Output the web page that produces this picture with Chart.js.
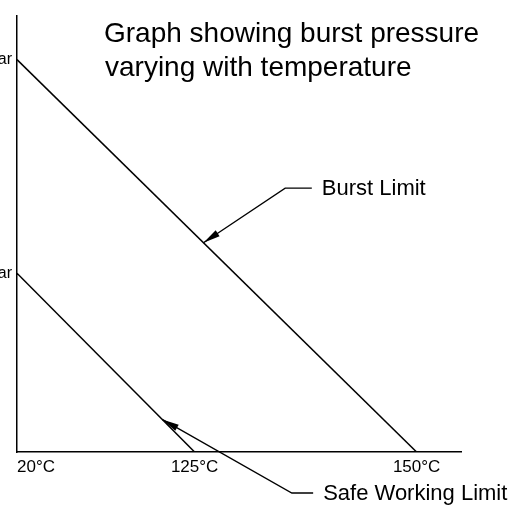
<!DOCTYPE html>
<html>
<head>
<meta charset="utf-8">
<script src="https://cdn.jsdelivr.net/npm/chart.js@4"></script>
<style>
  html, body { margin: 0; padding: 0; background: #fff; }
  #wrap { position: relative; width: 518px; height: 506px; }
</style>
</head>
<body>
<div id="wrap"><canvas id="burstChart" width="518" height="506"></canvas></div>
<script>
// temperature axis is schematic, so labels sit at fixed positions along it
const tempLabels = ["20°C", "125°C", "150°C", ""];
const tempPos = [0, 40, 90, 100];

const burstX = [0, 90];
const burstY = [90, 0];
const safeX = [0, 40];
const safeY = [41, 0];

const pressureTicks = [41, 90];
const pressureLabels = ["bar", "bar"];

const titleLines = ["Graph showing burst pressure", "varying with temperature"];

const FONT = "'Liberation Sans', Arial, sans-serif";

function toPoints(xs, ys) {
    return xs.map((x, i) => ({ x: x, y: ys[i] }));
}

function arrowHead(ctx, fx, fy, tx, ty) {
    const ang = Math.atan2(ty - fy, tx - fx);
    const len = 17, half = 3.5;
    ctx.beginPath();
    ctx.moveTo(tx, ty);
    ctx.lineTo(tx - len * Math.cos(ang) + half * Math.sin(ang), ty - len * Math.sin(ang) - half * Math.cos(ang));
    ctx.lineTo(tx - len * Math.cos(ang) - half * Math.sin(ang), ty - len * Math.sin(ang) + half * Math.cos(ang));
    ctx.closePath();
    ctx.fill();
}

// point on a straight series at a given x
function onLine(xs, ys, x) {
    return ys[0] + (ys[1] - ys[0]) * (x - xs[0]) / (xs[1] - xs[0]);
}

// leader lines + title, placed in data units
const notes = {
    id: "notes",
    afterDraw(chart) {
        const ctx = chart.ctx;
        const xs = chart.scales.x, ys = chart.scales.y;
        const px = v => xs.getPixelForValue(v);
        const py = v => ys.getPixelForValue(v);

        ctx.save();
        ctx.fillStyle = "#000";
        ctx.strokeStyle = "#000";
        ctx.lineWidth = 1.3;

        ctx.font = "28px " + FONT;
        ctx.textBaseline = "alphabetic";
        ctx.textAlign = "left";
        ctx.fillText(titleLines[0], 104, 42);
        ctx.fillText(titleLines[1], 105, 76);

        const leaders = [
            { label: "Burst Limit", tip: [42, onLine(burstX, burstY, 42)], elbow: [60.4, 60.5], end: 66.4 },
            { label: "Safe Working Limit", tip: [32.7, onLine(safeX, safeY, 32.7)], elbow: [61.9, -9.4], end: 66.7 }
        ];
        ctx.font = "22px " + FONT;
        ctx.textBaseline = "middle";
        leaders.forEach(l => {
            const tx = px(l.tip[0]), ty = py(l.tip[1]);
            const ex = px(l.elbow[0]), ey = py(l.elbow[1]);
            const hx = px(l.end);
            ctx.beginPath();
            ctx.moveTo(hx, ey);
            ctx.lineTo(ex, ey);
            ctx.lineTo(tx, ty);
            ctx.stroke();
            arrowHead(ctx, ex, ey, tx, ty);
            ctx.fillText(l.label, hx + 10, ey + 1);
        });
        ctx.restore();
    }
};

new Chart("burstChart", {
    type: "scatter",
    data: {
        datasets: [
            { label: "Burst Limit", data: toPoints(burstX, burstY) },
            { label: "Safe Working Limit", data: toPoints(safeX, safeY) }
        ]
    },
    options: {
        responsive: false,
        animation: false,
        devicePixelRatio: 1,
        layout: { padding: { top: 16, right: 57, left: 0, bottom: 0 } },
        elements: {
            line: { borderColor: "#000", borderWidth: 1.5, tension: 0 },
            point: { radius: 0 }
        },
        datasets: { scatter: { showLine: true, borderColor: "#000" } },
        scales: {
            x: {
                type: "linear",
                min: 0,
                max: 100,
                afterBuildTicks: s => { s.ticks = tempPos.map(v => ({ value: v })); },
                afterFit: s => { s.height = 54; },
                grid: { display: false, drawTicks: false },
                border: { display: true, color: "#000", width: 1.5 },
                ticks: {
                    autoSkip: false,
                    maxRotation: 0,
                    align: "inner",
                    padding: 5,
                    color: "#000",
                    font: { family: FONT, size: 17 },
                    callback: (v, i) => tempLabels[i]
                }
            },
            y: {
                type: "linear",
                min: 0,
                max: 100,
                afterBuildTicks: s => { s.ticks = pressureTicks.map(v => ({ value: v })); },
                afterFit: s => { s.width = 17; },
                grid: { display: false, drawTicks: false },
                border: { display: true, color: "#000", width: 1.5 },
                ticks: {
                    padding: 5,
                    color: "#000",
                    font: { family: FONT, size: 16 },
                    callback: (v, i) => pressureLabels[i]
                }
            }
        },
        plugins: {
            legend: { display: false },
            tooltip: { enabled: false }
        }
    },
    plugins: [notes]
});
</script>
</body>
</html>
